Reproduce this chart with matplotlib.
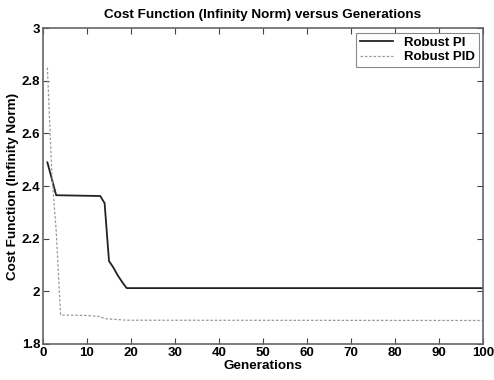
import numpy as np
import matplotlib.pyplot as plt

plt.rcParams['font.family'] = ['Liberation Sans', 'DejaVu Sans']
plt.rcParams['font.weight'] = 'bold'

# Best cost per generation (breakpoints of the curves)
pi_gen = [1, 3, 13, 14, 15, 16, 17, 18, 19, 100]
pi_cost = [2.49, 2.365, 2.362, 2.335, 2.115, 2.09, 2.06, 2.035, 2.012, 2.012]

pid_gen = [1, 2, 3, 4, 10, 13, 14, 19, 100]
pid_cost = [2.85, 2.45, 2.23, 1.91, 1.908, 1.904, 1.896, 1.89, 1.889]

fig = plt.figure(figsize=(4.94, 3.80), dpi=100)
ax = fig.add_axes([0.087, 0.095, 0.891, 0.831])

ax.plot(pi_gen, pi_cost, color='#222222', lw=1.3, label='Robust PI')
ax.plot(pid_gen, pid_cost, color='#999999', lw=0.9, ls=(0, (2, 1.5)), label='Robust PID')

ax.set_xlim(0, 100)
ax.set_ylim(1.8, 3.0)
ax.set_xticks(np.arange(0, 101, 10))
ax.set_yticks([1.8, 2.0, 2.2, 2.4, 2.6, 2.8, 3.0])
ax.set_yticklabels(['1.8', '2', '2.2', '2.4', '2.6', '2.8', '3'])
ax.tick_params(direction='in', top=True, right=True, length=4, width=0.8,
               color='#444444', labelsize=9.5, pad=2)
for s in ax.spines.values():
    s.set_color('#666666')
    s.set_linewidth(1.2)

ax.set_title('Cost Function (Infinity Norm) versus Generations', fontsize=9.7,
             fontweight='bold', pad=7)
ax.set_xlabel('Generations', fontsize=9.7, fontweight='bold', labelpad=1)
ax.set_ylabel('Cost Function (Infinity Norm)', fontsize=9.7, fontweight='bold', labelpad=2)

leg = ax.legend(loc='upper right', fontsize=9.5, fancybox=False, borderaxespad=0.35,
                handlelength=2.5, framealpha=1, edgecolor='#888888',
                borderpad=0.3, labelspacing=0.15)
leg.get_frame().set_linewidth(0.8)

fig.savefig('out.png', dpi=100)
